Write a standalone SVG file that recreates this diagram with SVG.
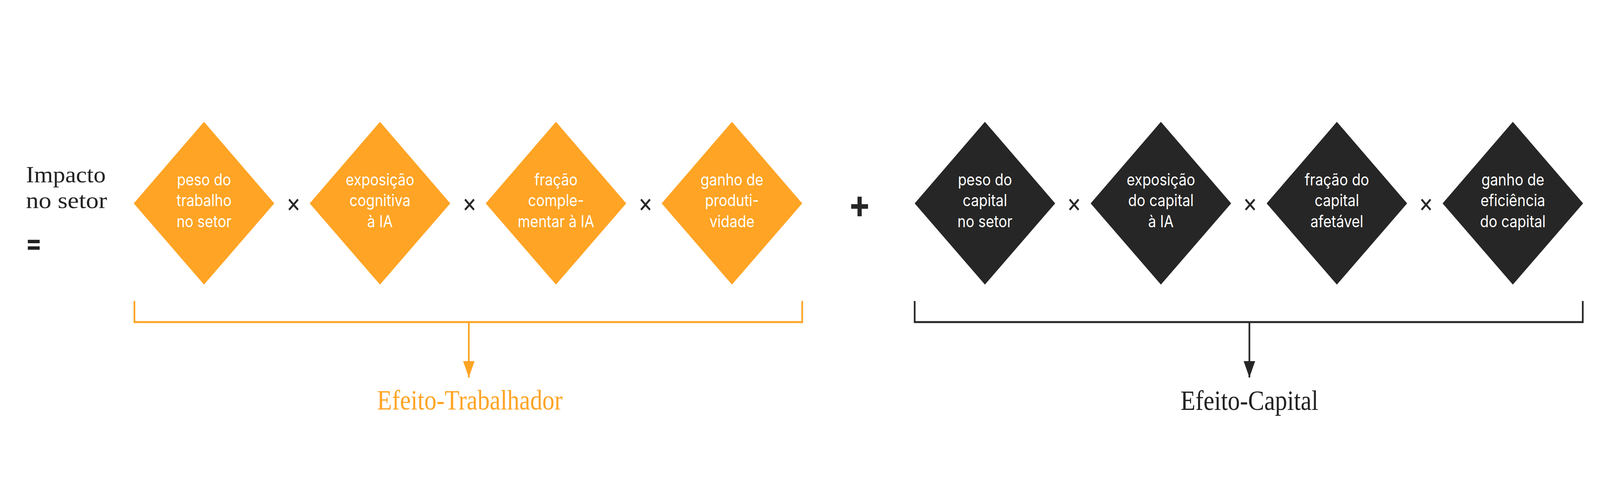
<svg xmlns="http://www.w3.org/2000/svg" width="4737" height="1250" viewBox="0 0 4737 1250" preserveAspectRatio="none" style="width:100vw;height:100vh;display:block">
  <defs>
    <style>
      .bg { fill: #ffffff; }
      .orange { fill: #FFA424; }
      .dark { fill: #262626; }
      .lbl { font-family: Inter, "Liberation Sans", sans-serif; font-size: 42px; fill: #ffffff; text-anchor: middle; }
      .op { font-family: Inter, "Liberation Sans", sans-serif; font-size: 66px; fill: #262626; text-anchor: middle; }
      .serif { font-family: "Liberation Serif", "DejaVu Serif", serif; font-size: 72px; }
      .title { font-family: "Liberation Serif", "DejaVu Serif", serif; font-size: 59px; fill: #222222; }
      .bro { stroke: #FFA424; stroke-width: 5; fill: none; }
      .brd { stroke: #262626; stroke-width: 5; fill: none; }
    </style>
    <marker id="arrO" markerUnits="userSpaceOnUse" markerWidth="42" markerHeight="34" refX="42" refY="17" orient="auto">
      <path d="M0,0 L42,17 L0,34 Z" fill="#FFA424"/>
    </marker>
    <marker id="arrD" markerUnits="userSpaceOnUse" markerWidth="42" markerHeight="34" refX="42" refY="17" orient="auto">
      <path d="M0,0 L42,17 L0,34 Z" fill="#262626"/>
    </marker>
  </defs>
  <rect class="bg" x="0" y="0" width="4737" height="1250"/>

  <g id="titulo">
    <text class="title" x="77" y="467" textLength="236" lengthAdjust="spacingAndGlyphs">Impacto</text>
    <text class="title" x="77" y="533" textLength="240" lengthAdjust="spacingAndGlyphs">no setor</text>
    <text x="100" y="648" font-family="Inter, 'Liberation Sans', sans-serif" font-size="72" font-weight="700" fill="#222222" text-anchor="middle">=</text>
  </g>

  <g id="n1">
    <polygon class="orange" points="604,312 812,521 604,729 396,521"/>
    <text class="lbl" x="604" y="475">peso do</text>
    <text class="lbl" x="604" y="528">trabalho</text>
    <text class="lbl" x="604" y="582">no setor</text>
  </g>
  <g id="n2">
    <polygon class="orange" points="1125,312 1333,521 1125,729 917,521"/>
    <text class="lbl" x="1125" y="475">exposição</text>
    <text class="lbl" x="1125" y="528">cognitiva</text>
    <text class="lbl" x="1125" y="582">à IA</text>
  </g>
  <g id="n3">
    <polygon class="orange" points="1646,312 1854,521 1646,729 1438,521"/>
    <text class="lbl" x="1646" y="475">fração</text>
    <text class="lbl" x="1646" y="528">comple-</text>
    <text class="lbl" x="1646" y="582">mentar à IA</text>
  </g>
  <g id="n4">
    <polygon class="orange" points="2167,312 2375,521 2167,729 1959,521"/>
    <text class="lbl" x="2167" y="475">ganho de</text>
    <text class="lbl" x="2167" y="528">produti-</text>
    <text class="lbl" x="2167" y="582">vidade</text>
  </g>

  <g id="n5">
    <polygon class="dark" points="2916,312 3124,521 2916,729 2708,521"/>
    <text class="lbl" x="2916" y="475">peso do</text>
    <text class="lbl" x="2916" y="528">capital</text>
    <text class="lbl" x="2916" y="582">no setor</text>
  </g>
  <g id="n6">
    <polygon class="dark" points="3437,312 3645,521 3437,729 3229,521"/>
    <text class="lbl" x="3437" y="475">exposição</text>
    <text class="lbl" x="3437" y="528">do capital</text>
    <text class="lbl" x="3437" y="582">à IA</text>
  </g>
  <g id="n7">
    <polygon class="dark" points="3958,312 4166,521 3958,729 3750,521"/>
    <text class="lbl" x="3958" y="475">fração do</text>
    <text class="lbl" x="3958" y="528">capital</text>
    <text class="lbl" x="3958" y="582">afetável</text>
  </g>
  <g id="n8">
    <polygon class="dark" points="4479,312 4687,521 4479,729 4271,521"/>
    <text class="lbl" x="4479" y="475">ganho de</text>
    <text class="lbl" x="4479" y="528">eficiência</text>
    <text class="lbl" x="4479" y="582">do capital</text>
  </g>

  <g id="operadores">
    <text class="op" x="869" y="543">×</text>
    <text class="op" x="1390" y="543">×</text>
    <text class="op" x="1911" y="543">×</text>
    <text class="op" x="3180" y="543">×</text>
    <text class="op" x="3701" y="543">×</text>
    <text class="op" x="4222" y="543">×</text>
    <text x="2545" y="558" font-family="Inter, 'Liberation Sans', sans-serif" font-size="100" font-weight="700" fill="#262626" text-anchor="middle">+</text>
  </g>

  <g id="connectors">
    <path class="bro" d="M398,771 V825 H2375 V771"/>
    <line class="bro" x1="1388" y1="825" x2="1388" y2="967" marker-end="url(#arrO)"/>
    <path class="brd" d="M2708,771 V825 H4686 V771"/>
    <line class="brd" x1="3699" y1="825" x2="3699" y2="967" marker-end="url(#arrD)"/>
  </g>

  <g id="efeito-trabalhador">
    <text class="serif" x="1391" y="1049" fill="#FFA424" text-anchor="middle">Efeito-Trabalhador</text>
  </g>
  <g id="efeito-capital">
    <text class="serif" x="3699" y="1050" fill="#222222" text-anchor="middle">Efeito-Capital</text>
  </g>
</svg>
